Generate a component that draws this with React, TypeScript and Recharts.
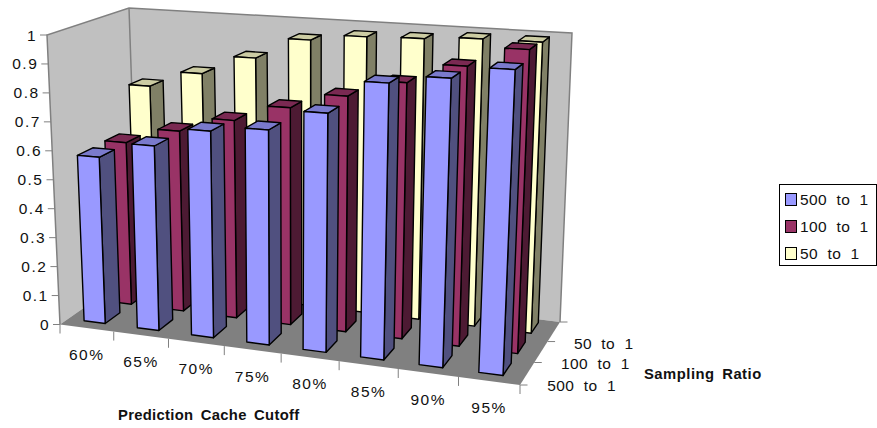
/** 3D-look clustered column chart: prediction cache cutoff vs sampling ratio. */

import { BarChart, Bar, XAxis, YAxis, Legend } from "recharts";

const cutoffs = ["60%", "65%", "70%", "75%", "80%", "85%", "90%", "95%"];
const ratio500 = [0.575, 0.63, 0.696, 0.715, 0.785, 0.897, 0.925, 0.965];
const ratio100 = [0.578, 0.635, 0.688, 0.747, 0.801, 0.86, 0.928, 0.995];
const ratio50 = [0.74, 0.8, 0.87, 0.947, 0.97, 0.975, 0.986, 0.987];
const valueTicks = [0, 0.1, 0.2, 0.3, 0.4, 0.5, 0.6, 0.7, 0.8, 0.9, 1];
const depthLabels = ["500  to  1", "100  to  1", "50  to  1"];

const chartData = cutoffs.map((cutoff, i) => ({
  cutoff,
  r500: ratio500[i],
  r100: ratio100[i],
  r50: ratio50[i],
}));

// Plot rect the axes scale into; the shapes then map it on to the 3D box
const PLOT = { x: 60, y: 35, w: 460, h: 290 };
const WIDTH = 877;
const HEIGHT = 428;
const FONT = "'Liberation Sans', Arial, sans-serif";

// Screen corners of the box: [front/back][left/right][bottom/top]
const CORNERS = {
  fbl: [60, 324.5],
  ftl: [47, 35],
  fbr: [520, 385],
  ftr: [534, 63],
  bbl: [138, 270],
  btl: [129, 8],
  bbr: [560, 322],
  btr: [572, 33],
};

const warp = (t: number, a: number) => t / (a - (a - 1) * t);
const mix = (a: number, b: number, t: number) => a + (b - a) * t;

function project(u: number, v: number, w: number): [number, number] {
  const uu = warp(u, 1.08);
  const vv = warp(v, 0.9);
  const at = (n: 0 | 1) => {
    const bottom = mix(
      mix(CORNERS.fbl[n], CORNERS.fbr[n], uu),
      mix(CORNERS.bbl[n], CORNERS.bbr[n], uu),
      vv,
    );
    const top = mix(
      mix(CORNERS.ftl[n], CORNERS.ftr[n], uu),
      mix(CORNERS.btl[n], CORNERS.btr[n], uu),
      vv,
    );
    return mix(bottom, top, w);
  };
  return [at(0), at(1)];
}

const pts = (list: [number, number][]) =>
  list.map((p) => `${p[0].toFixed(1)},${p[1].toFixed(1)}`).join(" ");

// One column: takes the rect from the Bar's scales and draws three faces
function makeColumn(depth: number, side: string, top: string) {
  return function Column(props: any) {
    const { x, y, width, height, fill } = props;
    // columns sit a touch left of the tick grid towards the right end
    const u0 = ((x - PLOT.x) / PLOT.w) * 0.994;
    const u1 = ((x + width - PLOT.x) / PLOT.w) * 0.994;
    const w = (PLOT.y + PLOT.h - y) / PLOT.h;
    const w0 = (PLOT.y + PLOT.h - (y + height)) / PLOT.h;
    const v0 = (depth + 0.29) / 3;
    const v1 = (depth + 0.84) / 3;
    const a = project(u0, v0, w0);
    const b = project(u1, v0, w0);
    const c = project(u1, v0, w);
    const d = project(u0, v0, w);
    const e = project(u0, v1, w);
    const f = project(u1, v1, w);
    const g = project(u1, v1, w0);
    const line = { stroke: "#000", strokeWidth: 1.4, strokeLinejoin: "round" as const };
    return (
      <g>
        <polygon points={pts([b, g, f, c])} fill={side} {...line} />
        <polygon points={pts([d, c, f, e])} fill={top} {...line} />
        <polygon points={pts([a, b, c, d])} fill={fill} {...line} />
      </g>
    );
  };
}

const FrontColumn = makeColumn(0, "#50507f", "#7a7acc");
const MiddleColumn = makeColumn(1, "#4d1a33", "#7a2952");
const BackColumn = makeColumn(2, "#808066", "#cccca3");

function Walls() {
  const edge = { stroke: "#808080", strokeWidth: 1.5 };
  const { fbl, ftl, fbr, bbl, btl, bbr, btr } = CORNERS;
  return (
    <g>
      <polygon points={pts([fbl, ftl, btl, bbl] as any)} fill="#c0c0c0" />
      <polygon points={pts([bbl, btl, btr, bbr] as any)} fill="#c0c0c0" />
      <polygon points={pts([fbl, bbl, bbr, fbr] as any)} fill="#808080" />
      <polyline points={pts([fbl, ftl, btl, btr, bbr] as any)} fill="none" {...edge} />
      <line x1={btl[0]} y1={btl[1]} x2={bbl[0]} y2={bbl[1]} {...edge} />
    </g>
  );
}

function ValueTick(props: any) {
  const { payload } = props;
  const [px, py] = project(0, 0, payload.value);
  return (
    <g>
      <line x1={px - 7} y1={py} x2={px} y2={py} stroke="#808080" strokeWidth={1} />
      <text
        x={px - 10}
        y={py + 5.5}
        textAnchor="end"
        fontFamily={FONT}
        fontSize={15.5}
        letterSpacing={1.5}
        fill="#111"
      >
        {payload.value}
      </text>
    </g>
  );
}

function CutoffTick(props: any) {
  const { payload, index } = props;
  const mid = (payload.coordinate - PLOT.x) / PLOT.w;
  const edgeAt = (u: number) => {
    const [px, py] = project(u, 0, 0);
    return <line x1={px} y1={py} x2={px} y2={py + 9} stroke="#808080" strokeWidth={1} />;
  };
  const [lx, ly] = project(mid, 0, 0);
  return (
    <g>
      {index === 0 ? edgeAt(0) : null}
      {edgeAt((index + 1) / cutoffs.length)}
      <text
        x={lx}
        y={ly + 32}
        textAnchor="middle"
        fontFamily={FONT}
        fontSize={15.5}
        letterSpacing={1.5}
        fill="#111"
      >
        {payload.value}
      </text>
    </g>
  );
}

function DepthAxis() {
  return (
    <g>
      {[0, 1 / 3, 2 / 3, 1].map((v) => {
        const [px, py] = project(1, v, 0);
        return (
          <line key={v} x1={px} y1={py} x2={px + 7.5} y2={py} stroke="#808080" strokeWidth={1} />
        );
      })}
      {depthLabels.map((label, i) => {
        const [px, py] = project(1, (i + 0.5) / 3, 0);
        return (
          <text
            key={label}
            x={px + 20}
            y={py + 17}
            fontFamily={FONT}
            fontSize={15.5}
            letterSpacing={0.4}
            fill="#111"
            style={{ whiteSpace: "pre" }}
          >
            {label}
          </text>
        );
      })}
    </g>
  );
}

function AxisTitles() {
  const title = { fontFamily: FONT, fontSize: 14.8, fontWeight: 700, fill: "#111" };
  return (
    <g>
      <text x={118} y={420} letterSpacing={0.3} wordSpacing={3} {...title}>
        Prediction Cache Cutoff
      </text>
      <text x={644} y={379} letterSpacing={0.5} wordSpacing={3} {...title}>
        Sampling Ratio
      </text>
    </g>
  );
}

function LegendBox({ payload }: any) {
  const items = depthLabels.map((label) =>
    (payload ?? []).find((item: any) => item.value === label),
  );
  return (
    <div
      style={{
        width: 98,
        height: 82,
        boxSizing: "border-box",
        border: "1px solid #000",
        background: "#fff",
        paddingTop: 1,
      }}
    >
      {items.filter(Boolean).map((item: any) => (
        <div key={item.value} style={{ display: "flex", alignItems: "center", height: 27, paddingLeft: 5 }}>
          <span
            style={{
              width: 10,
              height: 11,
              background: item.color,
              border: "1px solid #000",
              marginRight: 3,
            }}
          />
          <span
            style={{
              fontFamily: FONT,
              fontSize: 15.5,
              letterSpacing: 0.4,
              color: "#111",
              whiteSpace: "pre",
            }}
          >
            {item.value}
          </span>
        </div>
      ))}
    </div>
  );
}

export default function App() {
  return (
    <div style={{ position: "absolute", left: 0, top: 0, width: WIDTH, height: HEIGHT }}>
      <BarChart
        width={WIDTH}
        height={HEIGHT}
        data={chartData}
        barCategoryGap="30%"
        margin={{ top: PLOT.y, right: WIDTH - PLOT.x - PLOT.w, left: 0, bottom: 0 }}
      >
        <Walls />
        <XAxis
          xAxisId="front"
          dataKey="cutoff"
          height={HEIGHT - PLOT.y - PLOT.h}
          axisLine={false}
          tickLine={false}
          interval={0}
          tick={CutoffTick}
        />
        <XAxis xAxisId="middle" dataKey="cutoff" hide />
        <XAxis xAxisId="back" dataKey="cutoff" hide />
        <YAxis
          width={PLOT.x}
          domain={[0, 1]}
          ticks={valueTicks}
          axisLine={false}
          tickLine={false}
          interval={0}
          tick={ValueTick}
        />
        <DepthAxis />
        <AxisTitles />
        <Legend
          layout="vertical"
          align="center"
          verticalAlign="middle"
          wrapperStyle={{ left: 779, top: 184, width: 98 }}
          content={LegendBox}
        />
        <Bar
          xAxisId="back"
          dataKey="r50"
          name={depthLabels[2]}
          fill="#ffffcc"
          shape={BackColumn}
          isAnimationActive={false}
        />
        <Bar
          xAxisId="middle"
          dataKey="r100"
          name={depthLabels[1]}
          fill="#993366"
          shape={MiddleColumn}
          isAnimationActive={false}
        />
        <Bar
          xAxisId="front"
          dataKey="r500"
          name={depthLabels[0]}
          fill="#9999ff"
          shape={FrontColumn}
          isAnimationActive={false}
        />
      </BarChart>
    </div>
  );
}
